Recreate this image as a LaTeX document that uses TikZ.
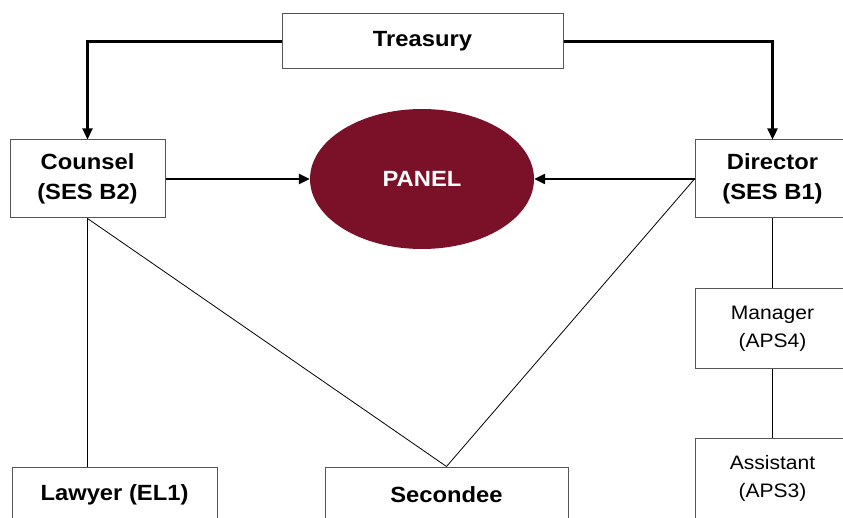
\documentclass[tikz,border=0pt]{standalone}
\usepackage{fontspec}
\setmainfont{Liberation Sans}[FakeStretch=1.08]
\usetikzlibrary{arrows.meta,shapes.geometric}
\definecolor{panelred}{HTML}{7B1029}
\definecolor{boxgray}{HTML}{555555}
\tikzset{
  x=1pt,y=-1pt,
  box/.style={draw=boxgray,line width=1pt,fill=white,inner sep=0pt,align=center},
  bbox/.style={box,font=\fontsize{22}{30}\selectfont\bfseries},
  rbox/.style={box,font=\fontsize{19.5}{28}\selectfont},
  arr/.style={line width=2.3pt,-{Triangle[length=11pt,width=10pt]}},
  thin/.style={line width=0.8pt}
}
\begin{document}
\begin{tikzpicture}
\clip (0,0) rectangle (843,518);
\fill[white] (0,0) rectangle (843,518);
\node[bbox,minimum width=281pt,minimum height=55pt] (treasury) at (422.5,41.5) {Treasury};
\node[bbox,minimum width=155pt,minimum height=78pt] (counsel) at (87.5,179) {Counsel\\(SES B2)};
\node[bbox,minimum width=155pt,minimum height=78pt] (director) at (772.5,179) {Director\\(SES B1)};
\node[ellipse,fill=panelred,minimum width=224pt,minimum height=140pt,font=\fontsize{22}{25}\selectfont\bfseries,text=white] (panel) at (422,179) {PANEL};
\node[rbox,minimum width=155pt,minimum height=80pt] (manager) at (772.5,329) {Manager\\(APS4)};
\node[rbox,minimum width=155pt,minimum height=80pt] (assistant) at (772.5,478) {Assistant\\(APS3)};
\node[bbox,minimum width=205pt,minimum height=55pt] (lawyer) at (114.5,494.5) {Lawyer (EL1)};
\node[bbox,minimum width=243pt,minimum height=55pt] (secondee) at (446.5,494.5) {Secondee};
\draw[arr] (treasury.west) -| (counsel.north);
\draw[arr] (treasury.east) -| (director.north);
\draw[arr] (counsel.east) -- (panel.west);
\draw[arr] (director.west) -- (panel.east);
\draw[thin] (counsel.south) -- (lawyer.north -| counsel.south);
\draw[thin] (counsel.south) -- (secondee.north);
\draw[thin] (director.west) -- (secondee.north);
\draw[thin] (director.south) -- (manager.north);
\draw[thin] (manager.south) -- (assistant.north);
\end{tikzpicture}
\end{document}
